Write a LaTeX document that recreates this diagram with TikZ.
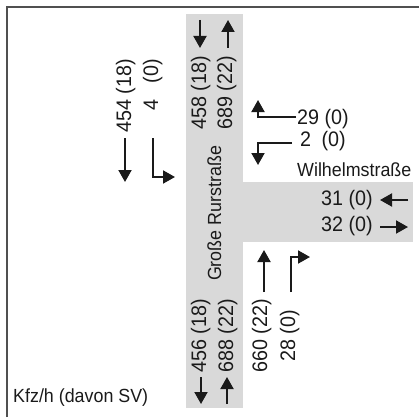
\documentclass[tikz,border=0pt]{standalone}
\usepackage{fontspec}
\setmainfont{Liberation Sans}
\newfontfamily\narrowsans[FakeStretch=0.94]{Liberation Sans}
\usetikzlibrary{arrows.meta}
\definecolor{road}{HTML}{D9D9D9}
\definecolor{ink}{HTML}{1A1A1A}
\definecolor{frame}{HTML}{505050}
\tikzset{
  num/.style={inner sep=0pt, text=ink, font=\narrowsans\fontsize{21}{24}\selectfont},
  street/.style={inner sep=0pt, text=ink, font=\narrowsans\fontsize{19}{22}\selectfont},
  flow/.style={draw=ink, line width=1.9pt, -{Triangle[width=13pt,length=12pt]}},
}
\begin{document}
\begin{tikzpicture}[x=1pt, y=-1pt]
\useasboundingbox (0,0) rectangle (419,417);
% roads
\fill[road] (186,14) rectangle (243,408);
\fill[road] (243,182) rectangle (413,242);
% frame
\draw[frame, line width=2.4pt] (7,417) -- (7,7) -- (419,7);

% street names
\node[street, rotate=90, anchor=base] (rur) at (221,213.5) {Große Rurstraße};
\node[street, anchor=base west] (wil) at (297,176) {Wilhelmstraße};
\node[street, anchor=base west] (leg) at (13,402) {Kfz/h (davon SV)};

% north approach (left of band)
\node[num, rotate=90, anchor=base east] (n1) at (131,59) {454 (18)};
\node[num, rotate=90, anchor=base east] (n2) at (158,59) {4 \hphantom{1}(0)};
\draw[flow] (125,138) -- (125,182);
\draw[flow] (153,138) -- (153,177) -- (175,177);

% top of band
\node[num, rotate=90, anchor=base east] (t1) at (206,56) {458 (18)};
\node[num, rotate=90, anchor=base east] (t2) at (232,56) {689 (22)};
\draw[flow] (200,20) -- (200,48);
\draw[flow] (228,48) -- (228,20);

% bottom of band
\node[num, rotate=90, anchor=base west] (b1) at (206,373) {456 (18)};
\node[num, rotate=90, anchor=base west] (b2) at (233,373) {688 (22)};
\draw[flow] (201,377) -- (201,404);
\draw[flow] (227,404) -- (227,377);

% south approach
\node[num, rotate=90, anchor=base west] (s1) at (267,373) {660 (22)};
\node[num, rotate=90, anchor=base west] (s2) at (295,373) {\hphantom{6}28 (0)};
\draw[flow] (264,292) -- (264,250);
\draw[flow] (291,292) -- (291,257) -- (310,257);

% east approach
\node[num, anchor=base west] (e1) at (297,124) {29 (0)};
\node[num, anchor=base west] (e2) at (300,146) {2\hspace{0.5em}(0)};
\draw[flow] (296,117) -- (258,117) -- (258,100);
\draw[flow] (292,143) -- (258,143) -- (258,165);

% Wilhelmstraße in band
\node[num, anchor=base east] (w1) at (373,205) {31 (0)};
\node[num, anchor=base east] (w2) at (373,231) {32 (0)};
\draw[flow] (408,200) -- (380,200);
\draw[flow] (380,227) -- (408,227);
\end{tikzpicture}
\end{document}
